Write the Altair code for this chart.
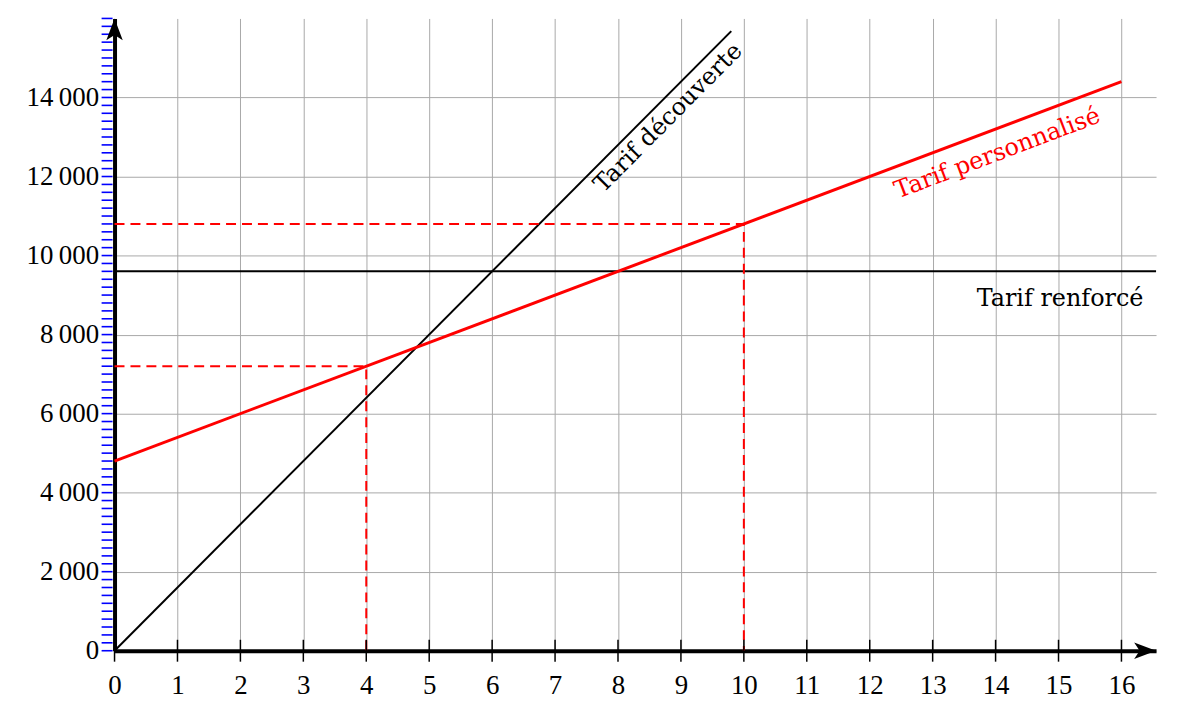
import altair as alt
import pandas as pd

# ---- data ----
x_ticks = list(range(0, 17))
y_labels = [0, 2000, 4000, 6000, 8000, 10000, 12000, 14000]
blue_ticks = list(range(0, 16001, 200))

decouverte_x = [0, 9.8]
decouverte_y = [0, 15680]
perso_x = [0, 16]
perso_y = [4800, 14400]
renforce_x = [0, 16.55]
renforce_y = [9600, 9600]
dash1_x = [0, 4, 4]
dash1_y = [7200, 7200, 0]
dash2_x = [0, 10, 10]
dash2_y = [10800, 10800, 0]

label_text = ["Tarif découverte", "Tarif personnalisé", "Tarif renforcé"]
label_x = [8.8, 14.03, 16.35]
label_y = [13480, 12580, 8730]

XMAX = 16.55
YMAX = 16000
FONT = "Liberation Serif"
LFONT = "DejaVu Serif"

xs = alt.Scale(domain=[0, XMAX], nice=False, zero=False)
ys = alt.Scale(domain=[0, YMAX], nice=False, zero=False)


def seg(xv, yv):
    return pd.DataFrame({"x": xv, "y": yv, "o": list(range(len(xv)))})


# grid + axes layer
grid_df = pd.DataFrame({"x": [0, XMAX], "y": [0, YMAX]})
base = alt.Chart(grid_df).mark_point(opacity=0).encode(
    x=alt.X("x:Q", scale=xs, axis=alt.Axis(
        values=x_ticks, format="d", grid=True, title=None, ticks=False, tickSize=0,
        labelPadding=22, labelFontSize=27, labelFont=FONT, labelColor="black",
        domainColor="black", domainWidth=4, labelFlush=False,
        gridColor="#a8a8a8", gridWidth=1)),
    y=alt.Y("y:Q", scale=ys, axis=alt.Axis(
        values=y_labels, grid=True, title=None, ticks=False, tickSize=0,
        labelPadding=16, labelFontSize=27, labelFont=FONT, labelColor="black",
        domainColor="black", domainWidth=4, labelFlush=False,
        labelExpr="replace(format(datum.value, ','), ',', '\u2009')",
        gridColor="#a8a8a8", gridWidth=1)),
)

blue = alt.Chart(pd.DataFrame({"y": blue_ticks})).mark_rule(
    color="#0000ff", strokeWidth=1.6).encode(
    y=alt.Y("y:Q", scale=ys), x=alt.value(-13), x2=alt.value(-2))

xt = alt.Chart(pd.DataFrame({"x": x_ticks})).mark_rule(
    color="black", strokeWidth=1.5).encode(
    x=alt.X("x:Q", scale=xs), y=alt.value(624), y2=alt.value(646))


def line(df, color, width, dash=None):
    kw = dict(color=color, strokeWidth=width)
    if dash:
        kw["strokeDash"] = dash
    return alt.Chart(df).mark_line(**kw).encode(
        x=alt.X("x:Q", scale=xs), y=alt.Y("y:Q", scale=ys), order="o:Q")


l_ren = line(seg(renforce_x, renforce_y), "black", 2)
l_dec = line(seg(decouverte_x, decouverte_y), "black", 2)
l_d1 = line(seg(dash1_x, dash1_y), "#ff0000", 2, [10, 6])
l_d2 = line(seg(dash2_x, dash2_y), "#ff0000", 2, [10, 6])
l_per = line(seg(perso_x, perso_y), "#ff0000", 3)

labels = pd.DataFrame({"t": label_text, "x": label_x, "y": label_y})


def txt(i, color, angle, align, baseline):
    d = labels.iloc[[i]]
    return alt.Chart(d).mark_text(
        font=LFONT, fontSize=24, color=color, angle=angle, align=align,
        baseline=baseline).encode(
        x=alt.X("x:Q", scale=xs), y=alt.Y("y:Q", scale=ys), text="t:N")


t_dec = txt(0, "black", 314.75, "center", "middle")
t_per = txt(1, "#ff0000", 339.3, "center", "middle")
t_ren = txt(2, "black", 0, "right", "alphabetic")

# arrow heads
ax_arrow = alt.Chart(pd.DataFrame({"x": [XMAX], "y": [0]})).mark_point(
    shape="M0,0 L-2,-0.75 L-1.5,0 L-2,0.75 Z", size=484, filled=True,
    color="black", opacity=1, strokeWidth=0).encode(
    x=alt.X("x:Q", scale=xs), y=alt.Y("y:Q", scale=ys))
ay_arrow = alt.Chart(pd.DataFrame({"x": [0], "y": [YMAX]})).mark_point(
    shape="M0,0 L-0.75,2 L0,1.5 L0.75,2 Z", size=484, filled=True,
    color="black", opacity=1, strokeWidth=0).encode(
    x=alt.X("x:Q", scale=xs), y=alt.Y("y:Q", scale=ys))

chart = alt.layer(
    base, blue, l_ren, l_dec, l_d1, l_d2, l_per, xt,
    t_dec, t_per, t_ren, ax_arrow, ay_arrow
).properties(
    width=1046, height=635,
    autosize=alt.AutoSizeParams(type="none"),
    padding={"left": 107, "top": 9, "right": 14, "bottom": 49},
).configure_view(stroke=None).configure_axis(zindex=0)

chart.save("out.html", embed_options={"renderer": "svg", "actions": False})
